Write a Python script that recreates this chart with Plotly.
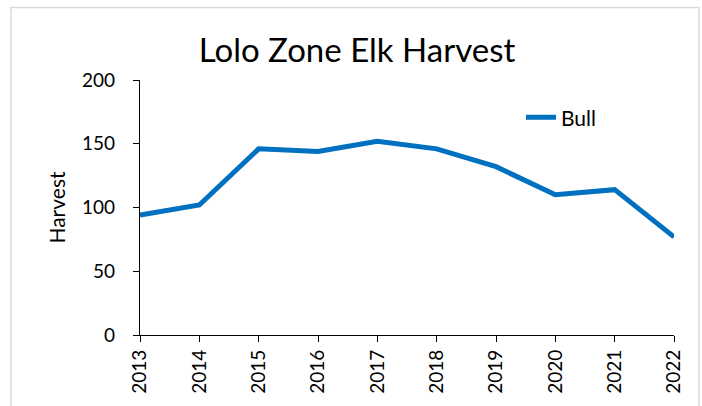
import plotly.graph_objects as go

years = [2013, 2014, 2015, 2016, 2017, 2018, 2019, 2020, 2021, 2022]
bull = [94, 102, 146, 144, 152, 146, 132, 110, 114, 77]
year_labels = [str(y) for y in years]
y_ticks = [0, 50, 100, 150, 200]

FONT = "Lato"
W, H = 702, 406
L, R, T, B = 140, 28, 80, 69
pw, ph = W - L - R, H - T - B

fig = go.Figure()
fig.add_trace(go.Scatter(
    x=years, y=bull, mode="lines", name="Bull",
    line=dict(color="#0070C0", width=5),
))

def px_x(p):
    return (p - L) / pw

def px_y(p):
    return (H - B - p) / ph

fig.update_layout(
    width=W, height=H,
    margin=dict(l=L, r=R, t=T, b=B),
    paper_bgcolor="white", plot_bgcolor="white",
    font=dict(family=FONT, color="black", size=19),
    title=dict(text="Lolo Zone Elk Harvest", x=357 / W, xanchor="center",
               y=1 - 50 / H, yanchor="middle",
               font=dict(family=FONT, size=33, color="black")),
    showlegend=True,
    legend=dict(x=px_x(521), xanchor="left", y=px_y(118), yanchor="middle",
                bgcolor="rgba(0,0,0,0)", font=dict(size=21, family=FONT)),
    xaxis=dict(range=[2013, 2022], tickmode="array", tickvals=years, ticktext=year_labels,
               tickangle=-90, showgrid=False, zeroline=False, showline=True,
               linecolor="black", linewidth=1.3, ticks="outside", ticklen=6,
               tickcolor="black", tickwidth=1.3, tickfont=dict(size=19)),
    yaxis=dict(range=[0, 200], tickmode="array", tickvals=y_ticks,
               showgrid=False, zeroline=False, showline=True,
               linecolor="black", linewidth=1.3, ticks="outside", ticklen=6,
               tickcolor="black", tickwidth=1.3, tickfont=dict(size=19),
               ticklabelstandoff=14,
               title=dict(text="Harvest", font=dict(size=21), standoff=10)),
    shapes=[dict(type="rect", xref="paper", yref="paper",
                 x0=px_x(11), x1=px_x(699), y0=px_y(415), y1=px_y(7),
                 line=dict(color="#d9d9d9", width=1.5), fillcolor="rgba(0,0,0,0)",
                 layer="below")],
)

fig.write_html("out.html", config={"displayModeBar": False},
               post_script="document.body.style.margin='0';")
